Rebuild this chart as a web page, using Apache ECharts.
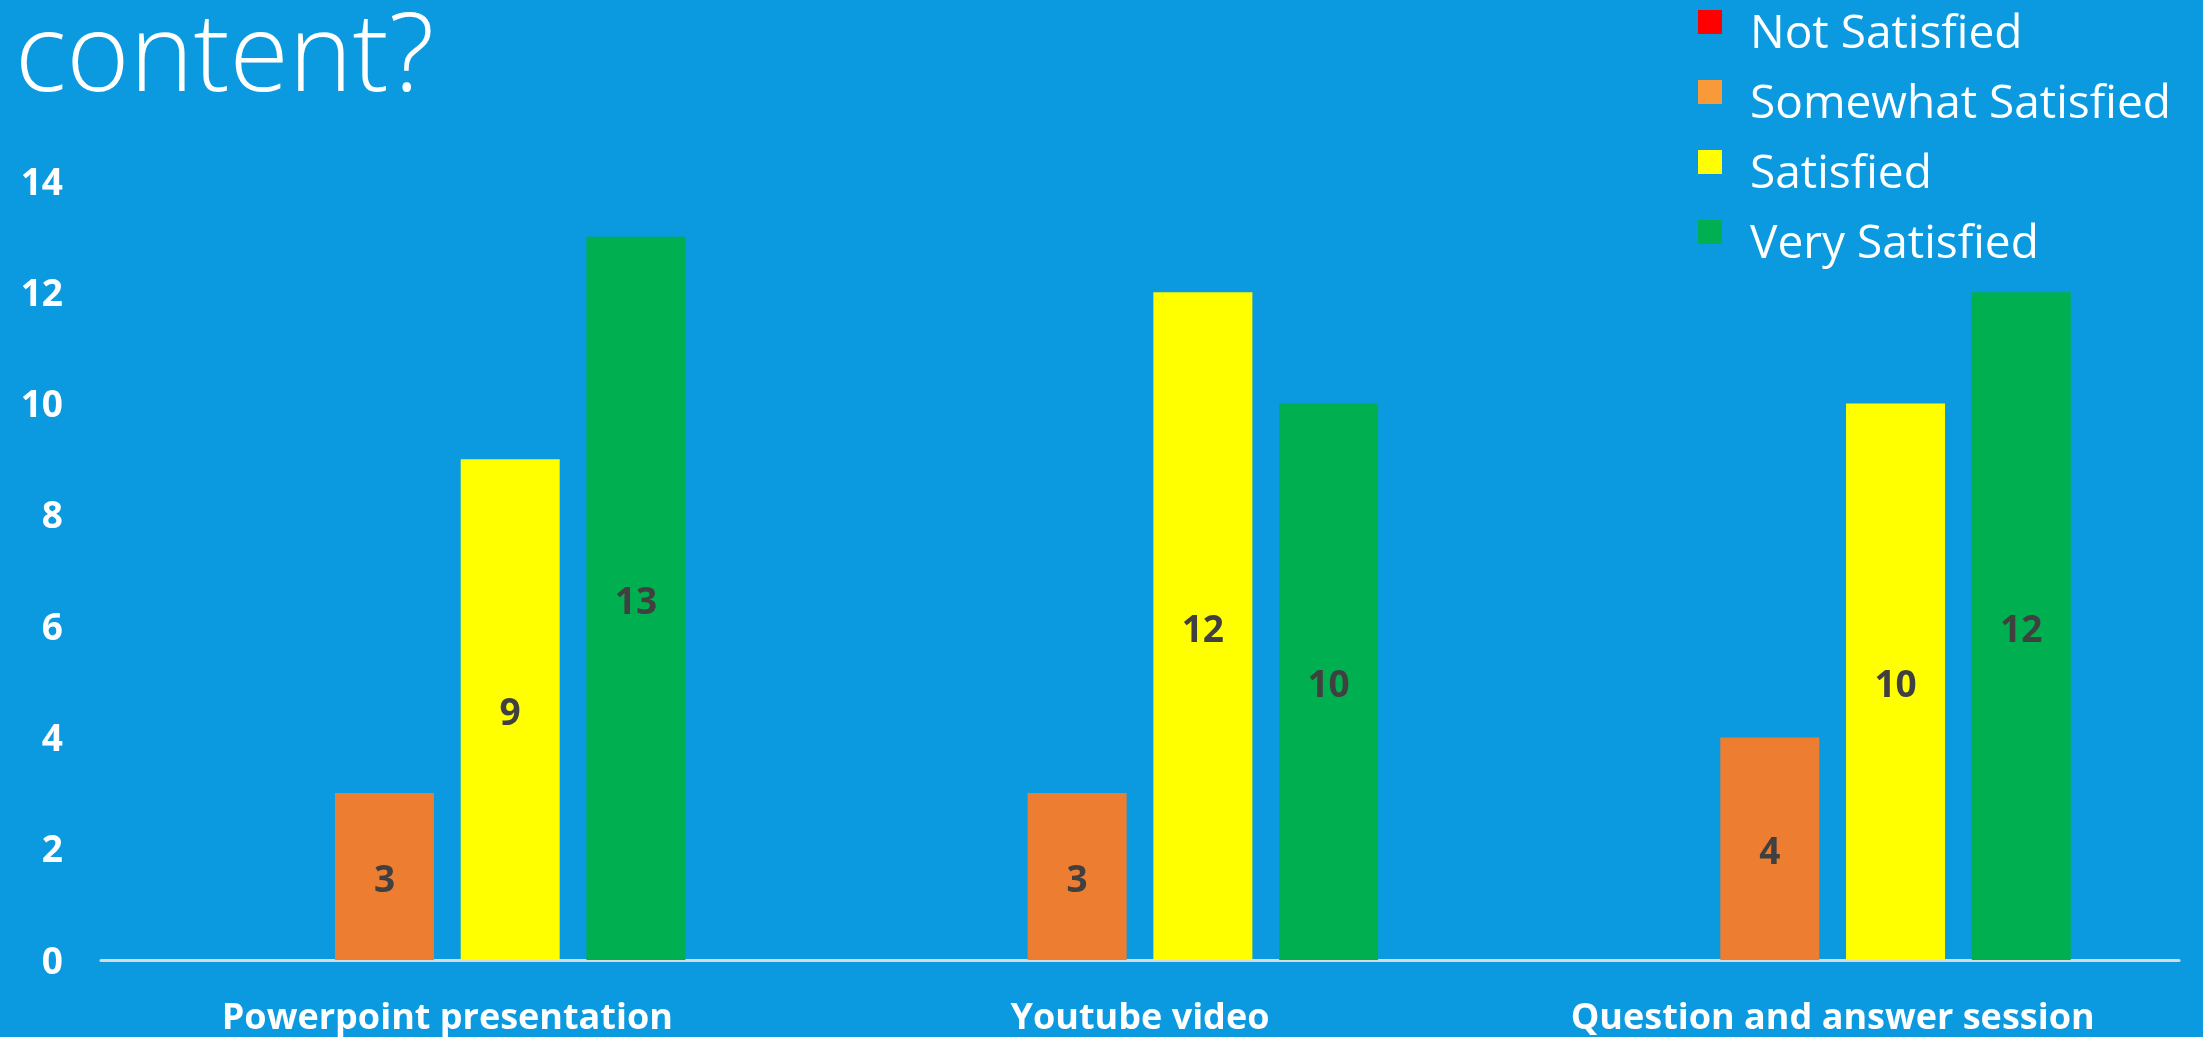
<!DOCTYPE html>
<html>
<head>
<meta charset="utf-8">
<script src="https://cdn.jsdelivr.net/npm/echarts@6/dist/echarts.min.js"></script>
<style>
html,body{margin:0;padding:0;background:#0B9ADF;}
#chart{width:2203px;height:1037px;}
</style>
</head>
<body>
<div id="chart"></div>
<script>
const titleText = 'content?';
const categories = ['Powerpoint presentation', 'Youtube video', 'Question and answer session'];
const seriesNames = ['Not Satisfied', 'Somewhat Satisfied', 'Satisfied', 'Very Satisfied'];
const notSatisfied = [0, 0, 0];
const somewhatSatisfied = [3, 3, 4];
const satisfied = [9, 12, 10];
const verySatisfied = [13, 10, 12];
const yTicks = [0, 2, 4, 6, 8, 10, 12, 14];

const barColors = ['#FF0000', '#ED7D31', '#FFFF00', '#00B050'];
const legendColors = ['#FF0000', '#F99A3A', '#FFFF00', '#00B050'];
const seriesValues = [notSatisfied, somewhatSatisfied, satisfied, verySatisfied];

const chart = echarts.init(document.getElementById('chart'), null, {renderer: 'canvas'});

const series = seriesNames.map((name, i) => ({
  name: name,
  type: 'bar',
  data: seriesValues[i],
  barWidth: 99,
  barGap: '27%',
  itemStyle: {color: barColors[i]},
  label: {
    show: i !== 0,
    position: 'inside',
    offset: [0, 5],
    color: '#404040',
    fontFamily: 'Open Sans',
    fontWeight: 'bold',
    fontSize: 37
  },
  emphasis: {disabled: true}
}));

chart.setOption({
  backgroundColor: '#0B9ADF',
  animation: false,
  graphic: [{
    type: 'text',
    left: 15,
    top: 6,
    style: {
      text: titleText,
      fill: '#FFFFFF',
      font: '300 108px "Open Sans"'
    }
  }],
  legend: {
    orient: 'vertical',
    left: 1698,
    top: 10,
    padding: 0,
    itemWidth: 24,
    itemHeight: 24,
    itemGap: 22,
    icon: 'rect',
    selectedMode: false,
    data: seriesNames.map((n, i) => ({name: n, itemStyle: {color: legendColors[i]}})),
    formatter: name => '{t|' + name + '}',
    textStyle: {
      color: '#FFFFFF',
      fontFamily: 'Open Sans',
      fontSize: 46,
      rich: {
        t: {
          color: '#FFFFFF',
          fontFamily: 'Open Sans',
          fontSize: 46,
          padding: [26, 0, 0, 23]
        }
      }
    }
  },
  grid: {left: 101, right: 24, top: 181, bottom: 77, containLabel: false},
  xAxis: {
    type: 'category',
    data: categories,
    axisLine: {show: true, lineStyle: {color: '#D9D9D9', width: 3}},
    axisTick: {show: false},
    axisLabel: {
      color: '#FFFFFF',
      fontFamily: 'Open Sans',
      fontWeight: 'bold',
      fontSize: 36,
      margin: 41,
      interval: 0
    }
  },
  yAxis: {
    type: 'value',
    min: yTicks[0],
    max: yTicks[yTicks.length - 1],
    interval: yTicks[1] - yTicks[0],
    axisLine: {show: false},
    axisTick: {show: false},
    splitLine: {show: false},
    axisLabel: {
      margin: 38,
      formatter: v => '{v|' + v + '}',
      rich: {
        v: {
          color: '#FFFFFF',
          fontFamily: 'Open Sans',
          fontWeight: 'bold',
          fontSize: 37,
          padding: [6, 0, 0, 0]
        }
      }
    }
  },
  series: series
});
</script>
</body>
</html>
